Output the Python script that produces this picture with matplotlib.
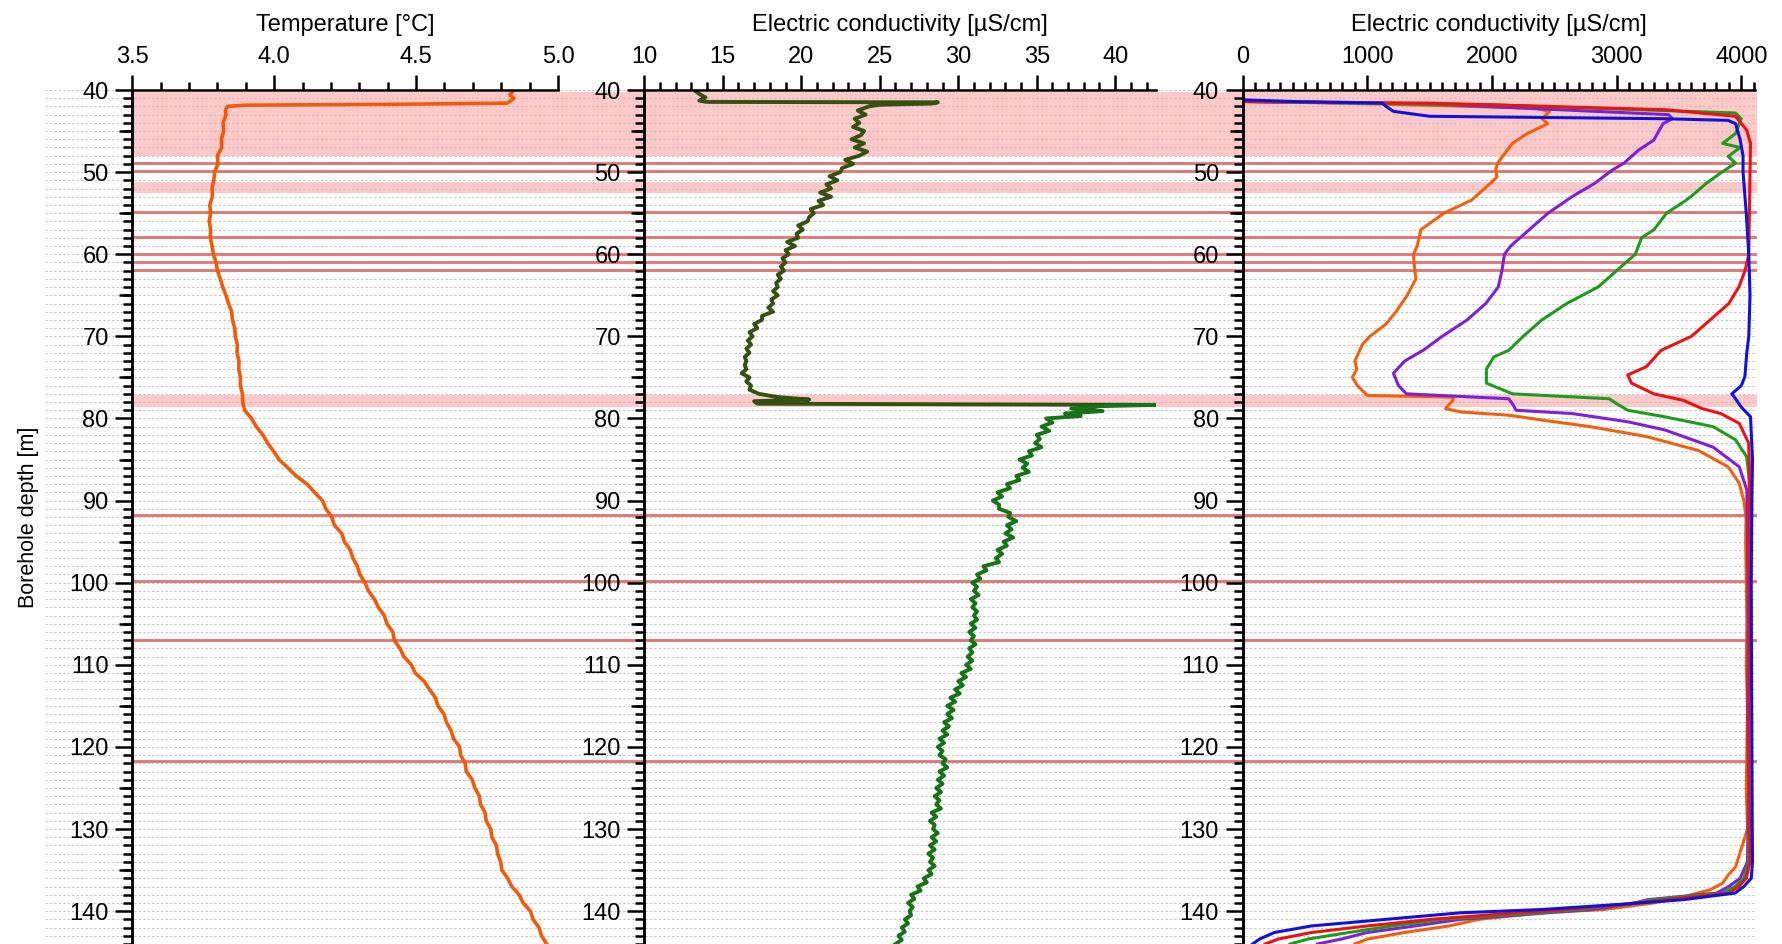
import numpy as np
import matplotlib.pyplot as plt
from matplotlib.ticker import MultipleLocator

plt.rcParams['font.family'] = ['Liberation Sans', 'DejaVu Sans']

# temperature log
temp_depth = [40.2, 40.6, 41.0, 41.4, 41.6, 41.75, 41.85, 42.0, 42.5, 43, 44, 45, 46, 47, 48, 49, 50,
              51, 52, 53, 54, 55, 56, 57, 58, 59, 60, 61, 62, 63, 64, 65, 66, 67, 68, 69, 70,
              71, 72, 73, 74, 75, 76, 77, 78, 79, 80, 81, 82, 83, 84, 85, 86, 87, 88, 89, 90,
              91, 92, 93, 94, 95, 96, 97, 98, 99, 100, 101, 102, 103, 104, 105, 106, 107, 108, 109, 110,
              111, 112, 113, 114, 115, 116, 117, 118, 119, 120, 121, 122, 123, 124, 125, 126, 127, 128, 129, 130,
              131, 132, 133, 134, 135, 136, 137, 138, 139, 140, 141, 142, 143, 144]
temp_val = [4.84, 4.83, 4.845, 4.83, 4.82, 4.40, 3.90, 3.835, 3.828, 3.83, 3.82, 3.822, 3.814, 3.815, 3.80, 3.802, 3.79,
            3.787, 3.781, 3.782, 3.773, 3.776, 3.771, 3.776, 3.775, 3.781, 3.786, 3.795, 3.80, 3.81, 3.819, 3.83, 3.839, 3.85, 3.853, 3.861, 3.863,
            3.87, 3.869, 3.876, 3.875, 3.881, 3.881, 3.888, 3.889, 3.896, 3.92, 3.937, 3.96, 3.977, 3.998, 4.017, 4.048, 4.077, 4.116, 4.142, 4.17,
            4.182, 4.203, 4.212, 4.238, 4.247, 4.268, 4.277, 4.293, 4.302, 4.32, 4.332, 4.353, 4.367, 4.388, 4.397, 4.418, 4.423, 4.443, 4.457, 4.483,
            4.497, 4.528, 4.547, 4.568, 4.577, 4.598, 4.607, 4.623, 4.632, 4.653, 4.657, 4.673, 4.677, 4.698, 4.707, 4.723, 4.727, 4.743, 4.747, 4.763,
            4.767, 4.783, 4.787, 4.798, 4.802, 4.823, 4.837, 4.863, 4.877, 4.903, 4.912, 4.933, 4.942, 4.96]

# single EC log (middle panel)
ec_depth = [40.2, 40.6, 40.9, 41.1, 41.3, 41.45, 41.5, 41.65, 41.8, 42.0, 42.5, 43.0, 43.5, 44.0, 44.5, 45.0, 45.5,
            46.0, 46.5, 47.0, 47.5, 48.0, 48.5, 49.0, 49.5, 50.0, 50.5, 51.0, 51.5, 52.0, 52.5, 53.0, 53.5,
            54.0, 54.5, 55.0, 55.5, 56.0, 56.5, 57.0, 57.5, 58.0, 58.5, 59.0, 59.5, 60.0, 60.5, 61.0, 61.5,
            62.0, 62.5, 63.0, 63.5, 64.0, 64.5, 65.0, 65.5, 66.0, 66.5, 67.0, 67.5, 68.0, 68.5, 69.0, 69.5,
            70.0, 70.5, 71.0, 71.5, 72.0, 72.5, 73.0, 73.5, 74.0, 74.5, 75.0, 75.5, 76.0, 76.5, 77.0, 77.4,
            77.7, 77.9, 78.2, 78.35, 78.5, 78.8, 79.1, 79.4, 79.7, 80.0, 80.5, 81.0, 81.5, 82.0, 82.5, 83.0,
            83.5, 84.0, 84.5, 85.0, 85.5, 86.0, 86.5, 87.0, 87.5, 88.0, 88.5, 89.0, 89.5, 90.0, 90.5, 91.0,
            91.5, 92.0, 92.5, 93.0, 93.5, 94.0, 94.5, 95.0, 95.5, 96.0, 96.5, 97.0, 97.5, 98.0, 98.5, 99.0,
            99.5, 100.0, 100.5, 101.0, 101.5, 102.0, 102.5, 103.0, 103.5, 104.0, 104.5, 105.0, 105.5, 106.0, 106.5, 107.0,
            107.5, 108.0, 108.5, 109.0, 109.5, 110.0, 110.5, 111.0, 111.5, 112.0, 112.5, 113.0, 113.5, 114.0, 114.5, 115.0,
            115.5, 116.0, 116.5, 117.0, 117.5, 118.0, 118.5, 119.0, 119.5, 120.0, 120.5, 121.0, 121.5, 122.0, 122.5, 123.0,
            123.5, 124.0, 124.5, 125.0, 125.5, 126.0, 126.5, 127.0, 127.5, 128.0, 128.5, 129.0, 129.5, 130.0, 130.5, 131.0,
            131.5, 132.0, 132.5, 133.0, 133.5, 134.0, 134.5, 135.0, 135.5, 136.0, 136.5, 137.0, 137.5, 138.0, 138.5, 139.0,
            139.5, 140.0, 140.5, 141.0, 141.5, 142.0, 142.5, 143.0, 143.5, 144.0]
ec_val = [13.3, 13.6, 13.9, 13.7, 13.5, 14.0, 28.7, 28.3, 25.0, 24.3, 23.6, 24.1, 23.4, 23.7, 23.3, 24.0, 23.8,
          23.2, 24.0, 23.4, 24.2, 23.7, 22.8, 23.3, 22.6, 22.5, 21.8, 22.3, 21.6, 21.9, 21.2, 21.9, 21.1,
          21.4, 20.6, 20.8, 20.5, 20.4, 19.8, 20.1, 19.7, 19.8, 19.1, 19.6, 19.0, 19.2, 18.8, 19.0, 18.7,
          18.9, 18.5, 18.7, 18.4, 18.5, 18.2, 18.5, 18.1, 18.2, 17.9, 18.2, 17.5, 17.5, 17.0, 17.2, 16.7,
          16.9, 16.6, 16.8, 16.5, 16.7, 16.4, 16.5, 16.4, 16.5, 16.2, 16.7, 16.5, 16.8, 16.7, 17.3, 18.5,
          20.5, 17.0, 17.2, 42.6, 39.0, 37.2, 39.2, 36.8, 37.8, 35.6, 36.0, 35.3, 35.8, 35.0, 35.2, 34.9,
          35.3, 34.5, 34.7, 33.9, 34.4, 34.1, 34.5, 33.7, 33.9, 33.1, 33.3, 32.5, 32.8, 32.2, 32.6, 32.6,
          33.3, 33.2, 33.7, 33.1, 33.4, 33.0, 33.5, 32.9, 33.1, 32.5, 32.8, 32.4, 32.6, 31.6, 31.8, 31.2,
          31.4, 30.9, 31.2, 31.0, 31.3, 30.8, 31.1, 30.9, 31.2, 31.0, 31.2, 30.8, 31.1, 30.7, 31.0, 30.8,
          31.1, 30.7, 30.9, 30.6, 30.9, 30.5, 30.8, 30.2, 30.5, 30.0, 30.3, 29.8, 30.1, 29.5, 29.8, 29.3,
          29.7, 29.3, 29.6, 29.1, 29.4, 29.0, 29.3, 28.8, 29.1, 28.7, 29.0, 28.8, 29.2, 29.0, 29.3, 28.8,
          29.1, 28.7, 29.0, 28.6, 28.9, 28.5, 28.8, 28.6, 28.9, 28.3, 28.6, 28.2, 28.5, 28.4, 28.7, 28.3,
          28.6, 28.2, 28.5, 28.1, 28.4, 28.2, 28.5, 28.1, 28.3, 27.8, 28.0, 27.4, 27.6, 27.0, 27.2, 26.8,
          27.1, 26.9, 27.0, 26.6, 26.8, 26.4, 26.6, 26.2, 26.4, 26.0]

# five repeated EC logs (right panel)
orange_depth = [40.2, 41.4, 41.6, 42.2, 42.6, 43.5, 44.1, 45.3, 46.5, 47.7, 48.9, 49.7, 50.6, 51.8, 53.4, 55, 57, 59, 60,
                62, 63, 65, 67, 68.5, 70, 71, 72, 73, 74, 75, 76, 77.2, 77.4, 77.8, 78.8, 79.2, 79.6, 80.3, 81, 82.2,
                83.9, 85.9, 87.9, 90, 92, 95, 100, 105, 110, 115, 120, 125, 130, 134.6, 135.5, 136.6, 137.4, 138.2,
                139, 139.8, 140.2, 141, 141.8, 142.6, 143.4, 144]
orange_val = [0, 0, 800, 2343, 2462, 2402, 2447, 2283, 2164, 2104, 2045, 2030, 2040, 1955, 1836, 1615, 1430, 1400, 1370,
              1380, 1390, 1320, 1230, 1150, 1020, 960, 930, 900, 915, 880, 920, 1000, 1690, 1686, 1627, 1746, 2134, 2450, 2790, 3238,
              3656, 3895, 3984, 4020, 4038, 4035, 4040, 4045, 4040, 4050, 4045, 4040, 4050, 3954, 3900, 3850, 3750, 3550,
              3300, 2900, 2400, 1895, 1656, 1299, 1000, 900]
purple_depth = [40.2, 41.4, 41.7, 43.0, 43.5, 44.1, 45.3, 46.1, 47.3, 48.9, 49.7, 51.4, 53, 55, 57, 59, 60, 62, 64, 66,
                68, 70, 71.7, 73, 74.5, 76, 77, 77.6, 78.2, 79, 79.4, 80.4, 81.4, 83.5, 85.9, 88.7, 95, 105, 115, 125,
                134, 136, 137, 137.8, 138.6, 139.1, 139.8, 140.2, 141, 141.8, 142.6, 143.4, 144]
purple_val = [0, 0, 1500, 3417, 3447, 3372, 3327, 3298, 3178, 3059, 2970, 2820, 2641, 2450, 2300, 2150, 2100, 2080, 2050, 1950,
              1800, 1600, 1448, 1300, 1209, 1250, 1313, 2134, 2164, 2193, 2641, 3089, 3387, 3775, 3984, 4044, 4050, 4055, 4050, 4058,
              4050, 3990, 3900, 3800, 3250, 3120, 2800, 2440, 1750, 1380, 1000, 791, 600]
green_depth = [40.2, 41.4, 41.8, 42.8, 43.5, 45.3, 46.5, 47, 48.1, 48.9, 50.1, 51.4, 52.6, 53.4, 55, 57, 58, 60, 62, 64,
               66, 68, 70, 71.7, 72.5, 74, 75.7, 77, 77.6, 78.2, 79, 79.8, 81, 82.6, 84.7, 88, 95, 105, 115, 125,
               134, 136, 137, 137.8, 138.6, 139.1, 139.8, 140.2, 141, 141.8, 142.6, 143.4, 144]
green_val = [0, 0, 2000, 3954, 3999, 3954, 3850, 3990, 3895, 3954, 3835, 3716, 3626, 3560, 3400, 3300, 3200, 3150, 3000, 2850,
             2600, 2400, 2250, 2134, 2015, 1955, 1955, 2164, 2940, 3000, 3089, 3387, 3775, 3954, 4044, 4068, 4060, 4065, 4058, 4062,
             4060, 4020, 3950, 3850, 3300, 3100, 2700, 2350, 1600, 1200, 851, 523, 380]
red_depth = [40.0, 41.4, 41.6, 42.4, 43.2, 44.9, 46.5, 50, 55, 60, 62, 64, 66, 68, 70, 71.7, 73.7, 74.7, 75.7, 77,
             77.8, 78.8, 79.4, 80.6, 83, 86, 95, 105, 115, 125, 134, 136, 137, 137.8, 138.6, 139.1, 139.8, 140.2, 141,
             141.8, 142.6, 143.4, 144]
red_val = [0, 0, 1500, 3387, 3954, 4044, 4074, 4070, 4065, 4060, 4030, 3980, 3900, 3750, 3600, 3357, 3238, 3089, 3119, 3298,
           3536, 3686, 3835, 3984, 4059, 4065, 4060, 4066, 4060, 4062, 4070, 4040, 3980, 3900, 3400, 3100, 2600, 2194, 1507,
           1000, 552, 284, 180]
blue_depth = [40.2, 41.2, 41.4, 41.6, 42.0, 42.6, 43.2, 43.5, 43.7, 44.1, 46, 48, 50, 55, 60, 65, 70, 72, 74.9, 76,
              77, 77.6, 78.6, 79.8, 85, 90, 100, 110, 120, 130, 134, 136, 137, 137.8, 138.6, 139.1, 139.8, 140.2, 141,
              141.8, 142.6, 143.4, 144]
blue_val = [0, 0, 403, 1120, 1150, 1209, 1500, 3387, 3895, 3954, 3990, 4014, 4014, 4040, 4060, 4070, 4060, 4044, 4029, 4000,
            3924, 3954, 3999, 4074, 4090, 4085, 4080, 4082, 4085, 4088, 4090, 4080, 4020, 3950, 3536, 3100, 2400, 1746, 1149,
            552, 254, 135, 80]

# marked zones
zone_bands = [(40.3, 48.0), (51.2, 52.6), (77.2, 78.6)]
zone_lines = [48.9, 49.9, 54.9, 57.9, 60.0, 61.0, 61.9, 91.8, 99.8, 107.0, 121.7]

W, H = 1783, 944
fig = plt.figure(figsize=(W / 100, H / 100), dpi=100)
top = 1 - 90 / H

bg = fig.add_axes([45 / W, 0, (1757 - 45) / W, top], zorder=0)
bg.set_ylim(144, 40)
bg.set_xlim(0, 1)
bg.axis('off')
x0 = (132.3 - 45) / (1757 - 45)
for d in np.arange(40, 145):
    bg.axhline(d, color='#c4c4c4', lw=0.8, ls=(0, (2, 2)), zorder=1)
for a, b in zone_bands:
    bg.axhspan(a, b, xmin=x0, xmax=1, color='#ffc9c9', lw=0, zorder=0)
for d in zone_lines:
    bg.axhline(d, xmin=x0, xmax=1, color='#e07373', lw=2, zorder=2)

ax1 = fig.add_axes([132.3 / W, 0, (558 - 132.3) / W, top], zorder=2)
ax2 = fig.add_axes([644.3 / W, 0, (1156 - 644.3) / W, top], zorder=2)
ax3 = fig.add_axes([1242.7 / W, 0, (1755 - 1242.7) / W, top], zorder=2)

ax1.plot(temp_val, temp_depth, color='#f25a0a', lw=2.6)

# upper part of the middle log is darker than the part below the 78 m inflow
k = ec_depth.index(78.5)
ax2.plot(ec_val[:k], ec_depth[:k], color='#36500f', lw=2.8)
ax2.plot(ec_val[k - 1:], ec_depth[k - 1:], color='#177317', lw=2.8)

for v, d, c in [(orange_val, orange_depth, '#f2600c'), (purple_val, purple_depth, '#7f1fd8'),
                (green_val, green_depth, '#1e9a1e'), (red_val, red_depth, '#ee1111'),
                (blue_val, blue_depth, '#1111dd')]:
    ax3.plot(v, d, color=c, lw=2.2)

ax1.set_xlim(3.5, 5.0)
ax2.set_xlim(10, 42.6)
ax3.set_xlim(0, 4110)
ax1.xaxis.set_major_locator(MultipleLocator(0.5))
ax1.xaxis.set_minor_locator(MultipleLocator(0.1))
ax1.xaxis.set_major_formatter(lambda v, p: f'{v:.1f}')
ax2.xaxis.set_major_locator(MultipleLocator(5))
ax2.xaxis.set_minor_locator(MultipleLocator(1))
ax3.xaxis.set_major_locator(MultipleLocator(1000))
ax3.xaxis.set_minor_locator(MultipleLocator(100))

ax1.set_xlabel('Temperature [°C]', fontsize=17, labelpad=11)
ax2.set_xlabel('Electric conductivity [µS/cm]', fontsize=17, labelpad=11)
ax3.set_xlabel('Electric conductivity [µS/cm]', fontsize=17, labelpad=11)
ax1.set_ylabel('Borehole depth [m]', fontsize=15.5, labelpad=22)

for ax in [ax1, ax2, ax3]:
    ax.set_facecolor('none')
    ax.set_ylim(144, 40)
    ax.yaxis.set_major_locator(MultipleLocator(10))
    ax.yaxis.set_minor_locator(MultipleLocator(1))
    ax.xaxis.tick_top()
    ax.xaxis.set_label_position('top')
    for s in ['right', 'bottom']:
        ax.spines[s].set_visible(False)
    for s in ['top', 'left']:
        ax.spines[s].set_linewidth(1.8)
    ax.tick_params(which='major', direction='out', length=12, width=1.8, labelsize=17, pad=5)
    ax.tick_params(which='minor', direction='out', length=6.5, width=1.8)
    ax.tick_params(axis='x', which='major', length=11, pad=5)
    ax.tick_params(axis='x', which='minor', length=6)
    sec = ax.secondary_yaxis('left')
    sec.set_yticks(np.arange(45, 145, 10))
    sec.tick_params(length=9.5, width=1.8, labelleft=False)
    sec.spines['left'].set_linewidth(1.8)

fig.savefig('out.png', dpi=100, facecolor='white')
